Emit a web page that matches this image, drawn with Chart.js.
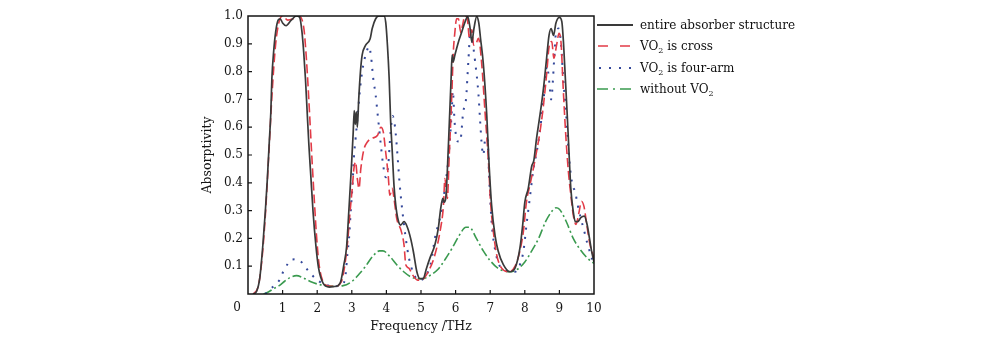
<!DOCTYPE html>
<html>
<head>
<meta charset="utf-8">
<script src="https://cdn.jsdelivr.net/npm/chart.js@4.4.1/dist/chart.umd.min.js"></script>
<style>
  html, body { margin: 0; padding: 0; background: #fff; }
  #wrap { position: relative; width: 1000px; height: 339px; }
  #legend { position: absolute; left: 597px; top: 14px; font-family: 'DejaVu Serif', serif; font-size: 12px; color: #111; }
  .row { height: 21.5px; display: flex; align-items: center; }
  .row svg { width: 36px; height: 10px; margin-right: 7px; }
  sub { font-size: 8px; vertical-align: -3px; line-height: 0; }
</style>
</head>
<body>
<div id="wrap">
  <canvas id="absChart" width="1000" height="339"></canvas>
  <div id="legend"></div>
</div>
<script>
// values (frequency in THz, absorptivity 0..1)
const entireFreq = [0.15, 0.25, 0.34, 0.43, 0.5, 0.56, 0.61, 0.66, 0.69, 0.74, 0.8, 0.87, 0.93, 1.0, 1.1, 1.25, 1.4, 1.49, 1.56, 1.61, 1.66, 1.71, 1.76, 1.82, 1.88, 1.96, 2.04, 2.17, 2.35, 2.5,
  2.6, 2.68, 2.77, 2.85, 2.92, 2.99, 3.04, 3.07, 3.1, 3.13, 3.16, 3.2, 3.25, 3.3, 3.4, 3.53, 3.59, 3.69, 3.79, 3.93, 3.98, 4.03, 4.08, 4.12, 4.17, 4.22, 4.27, 4.34, 4.41, 4.51, 4.6, 4.7, 4.78, 4.88, 4.97,
  5.07, 5.16, 5.26, 5.4, 5.5, 5.57, 5.63, 5.67, 5.72, 5.76, 5.82, 5.87, 5.9, 5.93, 5.98, 6.08, 6.18, 6.27, 6.35, 6.42, 6.47, 6.53, 6.61, 6.67, 6.72, 6.8, 6.9, 6.97, 7.04, 7.14, 7.23, 7.38, 7.57,
  7.72, 7.86, 7.94, 8.0, 8.1, 8.2, 8.26, 8.34, 8.44, 8.54, 8.63, 8.7, 8.76, 8.83, 8.9, 9.0, 9.07, 9.12, 9.17, 9.22, 9.27, 9.33, 9.4, 9.46, 9.53, 9.62, 9.72, 9.8, 9.87, 9.93, 10.0];
const entireAbs = [0, 0.01, 0.057, 0.177, 0.296, 0.416, 0.535, 0.655, 0.775, 0.87, 0.943, 0.985, 0.99, 0.975, 0.965, 0.985, 1.0, 0.996, 0.943, 0.87, 0.775, 0.655, 0.535, 0.416, 0.296, 0.177, 0.093, 0.039, 0.025, 0.027,
  0.03, 0.045, 0.105, 0.17, 0.31, 0.46, 0.58, 0.66, 0.61, 0.655, 0.6, 0.7, 0.8, 0.86, 0.895, 0.918, 0.955, 0.99, 1.0, 1.0, 0.978, 0.895, 0.775, 0.63, 0.51, 0.39, 0.32, 0.266, 0.248, 0.26, 0.242, 0.2, 0.152, 0.08, 0.055,
  0.057, 0.093, 0.13, 0.176, 0.236, 0.308, 0.344, 0.33, 0.35, 0.44, 0.62, 0.775, 0.86, 0.835, 0.86, 0.906, 0.943, 0.978, 0.998, 0.955, 0.906, 0.955, 0.998, 0.975, 0.92, 0.83, 0.645, 0.46, 0.32, 0.21, 0.155, 0.106, 0.08,
  0.094, 0.166, 0.25, 0.33, 0.38, 0.46, 0.48, 0.56, 0.645, 0.74, 0.848, 0.93, 0.955, 0.93, 0.975, 0.995, 0.98, 0.9, 0.78, 0.66, 0.53, 0.38, 0.297, 0.26, 0.26, 0.275, 0.28, 0.25, 0.2, 0.154, 0.115];

const crossFreq = [0.15, 0.3, 0.4, 0.5, 0.6, 0.7, 0.8, 0.9, 1.0, 1.15, 1.3, 1.45, 1.55, 1.62, 1.68, 1.74, 1.8, 1.86, 1.92, 1.98, 2.05, 2.15, 2.3, 2.5,
  2.65, 2.73, 2.87, 2.95, 3.02, 3.06, 3.11, 3.16, 3.21, 3.26, 3.35, 3.45, 3.59, 3.74, 3.84, 3.91, 3.98, 4.05, 4.1, 4.17, 4.22, 4.3, 4.36, 4.42, 4.51, 4.56, 4.65, 4.75, 4.9, 5.0,
  5.26, 5.4, 5.55, 5.65, 5.69, 5.76, 5.82, 5.89, 5.93, 5.98, 6.03, 6.08, 6.15, 6.2, 6.27, 6.34, 6.4, 6.47, 6.52, 6.59, 6.66, 6.75, 6.85, 6.95, 7.01, 7.09, 7.19, 7.33, 7.55,
  7.72, 7.86, 7.96, 8.05, 8.15, 8.25, 8.34, 8.44, 8.54, 8.63, 8.71, 8.78, 8.84, 8.92, 8.99, 9.05, 9.11, 9.19, 9.26, 9.33, 9.4, 9.48, 9.56, 9.64, 9.71, 9.79, 9.88, 10.0];
const crossAbs = [0, 0.03, 0.12, 0.28, 0.5, 0.73, 0.9, 0.98, 1.0, 0.985, 0.99, 1.0, 0.99, 0.95, 0.86, 0.74, 0.6, 0.46, 0.33, 0.21, 0.11, 0.05, 0.03, 0.028,
  0.035, 0.056, 0.176, 0.296, 0.39, 0.45, 0.475, 0.415, 0.38, 0.45, 0.52, 0.547, 0.56, 0.57, 0.6, 0.583, 0.51, 0.43, 0.355, 0.38, 0.344, 0.27, 0.248, 0.23, 0.176, 0.105, 0.093, 0.07, 0.05, 0.05,
  0.093, 0.14, 0.225, 0.32, 0.415, 0.344, 0.51, 0.715, 0.86, 0.943, 0.99, 0.99, 0.94, 0.966, 1.0, 0.99, 0.92, 0.95, 0.895, 0.9, 0.92, 0.835, 0.655, 0.475, 0.33, 0.225, 0.14, 0.093, 0.08,
  0.1, 0.155, 0.226, 0.333, 0.393, 0.453, 0.512, 0.584, 0.68, 0.79, 0.896, 0.908, 0.848, 0.896, 0.938, 0.9, 0.74, 0.56, 0.44, 0.357, 0.285, 0.25, 0.29, 0.333, 0.315, 0.25, 0.18, 0.13];

const fourArmFreq = [0.5, 0.67, 0.8, 0.92, 1.02, 1.13, 1.26, 1.4, 1.52, 1.64, 1.76, 1.94, 2.2, 2.5,
  2.73, 2.82, 2.87, 2.92, 2.97, 3.02, 3.06, 3.11, 3.18, 3.24, 3.3, 3.37, 3.45, 3.5, 3.56, 3.62, 3.69, 3.74, 3.79, 3.84, 3.9, 3.98, 4.05, 4.12, 4.18, 4.25, 4.32, 4.38, 4.46, 4.56, 4.65, 4.8, 4.94,
  5.16, 5.3, 5.4, 5.5, 5.6, 5.7, 5.78, 5.84, 5.89, 5.92, 5.97, 6.05, 6.13, 6.22, 6.3, 6.37, 6.42, 6.47, 6.56, 6.66, 6.71, 6.76, 6.8, 6.86, 6.92, 6.97, 7.04, 7.14, 7.28, 7.45, 7.55,
  7.72, 7.86, 7.96, 8.05, 8.15, 8.25, 8.37, 8.47, 8.56, 8.64, 8.71, 8.76, 8.85, 8.9, 8.98, 9.05, 9.11, 9.19, 9.24, 9.29, 9.38, 9.45, 9.53, 9.62, 9.72, 9.82, 9.91, 10.0];
const fourArmAbs = [0, 0.02, 0.035, 0.052, 0.081, 0.105, 0.124, 0.125, 0.118, 0.1, 0.081, 0.057, 0.035, 0.028,
  0.033, 0.069, 0.14, 0.2, 0.3, 0.39, 0.49, 0.56, 0.655, 0.74, 0.8, 0.846, 0.88, 0.89, 0.85, 0.775, 0.715, 0.655, 0.595, 0.535, 0.47, 0.42, 0.46, 0.58, 0.64, 0.6, 0.5, 0.4, 0.3, 0.2, 0.13, 0.07, 0.05,
  0.069, 0.12, 0.2, 0.25, 0.3, 0.39, 0.47, 0.56, 0.66, 0.73, 0.62, 0.55, 0.547, 0.655, 0.7, 0.84, 0.93, 0.92, 0.84, 0.72, 0.62, 0.53, 0.5, 0.56, 0.56, 0.42, 0.26, 0.16, 0.1, 0.085, 0.08,
  0.08, 0.106, 0.154, 0.25, 0.35, 0.45, 0.53, 0.62, 0.72, 0.82, 0.76, 0.7, 0.846, 0.94, 0.955, 0.895, 0.775, 0.655, 0.56, 0.475, 0.39, 0.37, 0.32, 0.272, 0.225, 0.176, 0.14, 0.1];

const noVO2Freq = [0.45, 0.6, 0.75, 0.9, 1.05, 1.2, 1.4, 1.6, 1.8, 2.0, 2.25, 2.5, 2.75, 3.0, 3.2, 3.4, 3.6, 3.8, 3.9, 4.1, 4.3, 4.5, 4.7, 4.9, 5.05,
  5.3, 5.5, 5.7, 5.9, 6.1, 6.3, 6.4, 6.6, 6.8, 7.0, 7.2, 7.4, 7.6, 7.8, 8.0, 8.2, 8.4, 8.6, 8.8, 8.9, 9.0, 9.2, 9.4, 9.6, 9.8, 10.0];
const noVO2Abs = [0, 0.008, 0.02, 0.03, 0.045, 0.058, 0.066, 0.058, 0.045, 0.036, 0.03, 0.028, 0.03, 0.045, 0.07, 0.1, 0.135, 0.155, 0.155, 0.135, 0.105, 0.08, 0.062, 0.055, 0.055,
  0.07, 0.09, 0.125, 0.165, 0.21, 0.24, 0.24, 0.2, 0.155, 0.12, 0.095, 0.083, 0.08, 0.09, 0.115, 0.155, 0.2, 0.26, 0.3, 0.31, 0.305, 0.26, 0.2, 0.16, 0.13, 0.11];

const xTicks = [0, 1, 2, 3, 4, 5, 6, 7, 8, 9, 10];
const yTicks = [0.1, 0.2, 0.3, 0.4, 0.5, 0.6, 0.7, 0.8, 0.9, 1.0];

const seriesNames = ['entire absorber structure', 'VO<sub>2</sub> is cross', 'VO<sub>2</sub> is four-arm', 'without VO<sub>2</sub>'];

const FONT = "'DejaVu Serif', serif";
const INK = '#151515';

function toPoints(xs, ys) {
  return xs.map((x, i) => ({ x: x, y: ys[i] }));
}

const styles = [
  { color: '#3a3a3a', dash: [], width: 1.7 },
  { color: '#e23b47', dash: [9, 4], width: 1.6 },
  { color: '#34489a', dash: [2, 7], width: 2 },
  { color: '#3a9a4f', dash: [9, 3, 2, 3], width: 1.6 }
];

const seriesData = [
  toPoints(entireFreq, entireAbs),
  toPoints(crossFreq, crossAbs),
  toPoints(fourArmFreq, fourArmAbs),
  toPoints(noVO2Freq, noVO2Abs)
];

// plot frame + inward ticks + the shared "0" label
const framePlugin = {
  id: 'frame',
  afterDraw(chart) {
    const ctx = chart.ctx;
    const a = chart.chartArea;
    const xs = chart.scales.x;
    const ys = chart.scales.y;
    ctx.save();
    ctx.strokeStyle = INK;
    ctx.lineWidth = 1.5;
    ctx.strokeRect(a.left, a.top, a.right - a.left, a.bottom - a.top);
    ctx.lineWidth = 1.2;
    ctx.beginPath();
    xTicks.forEach(v => {
      if (v === 0 || v === 10) return;
      const px = xs.getPixelForValue(v);
      ctx.moveTo(px, a.bottom);
      ctx.lineTo(px, a.bottom - 4);
    });
    yTicks.forEach(v => {
      if (v === 1.0) return;
      const py = ys.getPixelForValue(v);
      ctx.moveTo(a.left, py);
      ctx.lineTo(a.left + 4, py);
    });
    ctx.stroke();
    ctx.fillStyle = INK;
    ctx.font = '12px ' + FONT;
    ctx.textAlign = 'center';
    ctx.textBaseline = 'middle';
    ctx.fillText('0', xs.getPixelForValue(0) - 11, a.bottom + 14);
    ctx.restore();
  }
};

new Chart(document.getElementById('absChart'), {
  type: 'line',
  data: {
    datasets: seriesData.map((pts, i) => ({
      data: pts,
      borderColor: styles[i].color,
      borderDash: styles[i].dash,
      borderWidth: styles[i].width,
      fill: false,
      pointRadius: 0,
      cubicInterpolationMode: 'monotone'
    }))
  },
  options: {
    responsive: false,
    animation: false,
    layout: { padding: { left: 190, right: 406, top: 16, bottom: 0 } },
    scales: {
      x: {
        type: 'linear',
        min: 0,
        max: 10,
        afterBuildTicks: s => { s.ticks = xTicks.map(v => ({ value: v })); },
        afterFit: s => { s.height = 45; },
        ticks: {
          callback: v => v === 0 ? '' : String(v),
          font: { family: FONT, size: 12 },
          color: INK,
          padding: 8,
          maxRotation: 0,
          autoSkip: false
        },
        grid: { display: false, drawTicks: false },
        border: { display: false },
        title: {
          display: true,
          text: 'Frequency /THz',
          font: { family: FONT, size: 12.5 },
          color: INK,
          padding: { top: 0, bottom: 5 }
        }
      },
      y: {
        min: 0,
        max: 1,
        afterBuildTicks: s => { s.ticks = yTicks.map(v => ({ value: v })); },
        afterFit: s => { s.width = 58; },
        ticks: {
          callback: v => v.toFixed(1),
          font: { family: FONT, size: 12 },
          color: INK,
          padding: 5,
          autoSkip: false
        },
        grid: { display: false, drawTicks: false },
        border: { display: false },
        title: {
          display: true,
          text: 'Absorptivity',
          font: { family: FONT, size: 12.5 },
          color: INK,
          padding: { top: 10, bottom: 0 }
        }
      }
    },
    plugins: {
      legend: { display: false },
      tooltip: { enabled: false }
    }
  },
  plugins: [framePlugin]
});

// legend beside the plot
const legendSamples = [
  '<line x1="0" y1="5" x2="36" y2="5" stroke="#3a3a3a" stroke-width="1.8"/>',
  '<line x1="1" y1="5" x2="36" y2="5" stroke="#e23b47" stroke-width="1.6" stroke-dasharray="10 12"/>',
  '<line x1="2" y1="5" x2="36" y2="5" stroke="#34489a" stroke-width="2" stroke-dasharray="2 8"/>',
  '<line x1="0" y1="5" x2="36" y2="5" stroke="#3a9a4f" stroke-width="1.6" stroke-dasharray="11 5 2 5"/>'
];
document.getElementById('legend').innerHTML = seriesNames.map((name, i) => `
  <div class="row">
    <svg viewBox="0 0 36 10">${legendSamples[i]}</svg>
    <span>${name}</span>
  </div>`).join('');
</script>
</body>
</html>
